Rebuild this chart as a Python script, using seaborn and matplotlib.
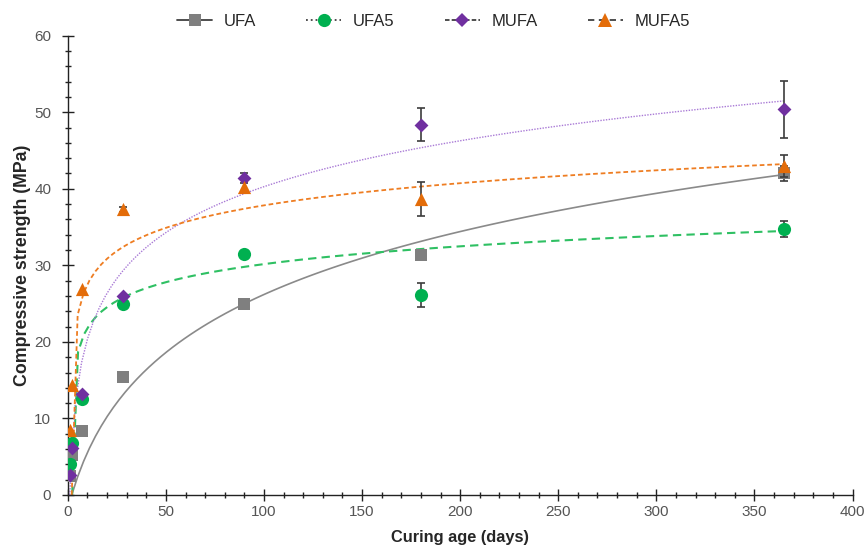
import numpy as np
import pandas as pd
import matplotlib
matplotlib.use("Agg")
import matplotlib.pyplot as plt
import seaborn as sns
from matplotlib.lines import Line2D
from matplotlib.ticker import MultipleLocator

# Curing ages (days) and mean compressive strength (MPa) of each mix
age_days = [1, 2, 7, 28, 90, 180, 365]
mix_names = ["UFA", "UFA5", "MUFA", "MUFA5"]
ufa = [2.5, 5.2, 8.4, 15.4, 24.9, 31.4, 42.0]
ufa5 = [4.1, 6.8, 12.5, 24.9, 31.5, 26.1, 34.8]
mufa = [2.6, 6.1, 13.2, 26.0, 41.4, 48.4, 50.4]
mufa5 = [8.5, 14.4, 26.9, 37.3, 40.3, 38.7, 43.0]

# Standard deviations (MPa)
ufa_sd = [0, 0, 0, 0, 0, 0, 1.0]
ufa5_sd = [0, 0, 0, 0, 0, 1.6, 1.05]
mufa_sd = [0, 0, 0, 0, 0.7, 2.2, 3.7]
mufa5_sd = [0, 0, 0, 0.3, 0, 2.2, 1.4]

# Strength-development trend  f(t) = a * ln(1 + (t - t0) / b)
trend_a = [12.97, 3.3, 8.65, 4.117]
trend_t0 = [2.0, 2.2, 0.95, 2.0]
trend_b = [15.0, 0.0105, 0.95, 0.01]

strengths = [ufa, ufa5, mufa, mufa5]
sds = [ufa_sd, ufa5_sd, mufa_sd, mufa5_sd]

marker_colors = ["#7f7f7f", "#00b050", "#7030a0", "#e36c09"]
marker_shapes = ["s", "o", "D", "^"]
marker_areas = [86, 90, 50, 90]
trend_colors = ["#8a8a8a", "#2fc063", "#a97ad6", "#ee7d22"]
trend_dashes = [None, (4, 2.5), (1, 1), (2.6, 1.6)]
trend_widths = [1.2, 1.5, 1.0, 1.3]
legend_ls = ["-", ":", (0, (2.5, 1.2)), (0, (3.5, 2.5))]

points = pd.DataFrame({
    "age": np.tile(age_days, len(mix_names)),
    "strength": np.concatenate(strengths),
    "sd": np.concatenate(sds),
    "mix": np.repeat(mix_names, len(age_days)),
})

curve_rows = []
for name, a, t0, b in zip(mix_names, trend_a, trend_t0, trend_b):
    t = np.linspace(t0, 365, 121)
    curve_rows.append(pd.DataFrame({"age": t, "strength": a * np.log1p((t - t0) / b), "mix": name}))
curves = pd.concat(curve_rows, ignore_index=True)

sns.set_style("ticks")
plt.rcParams["font.family"] = ["Liberation Sans", "DejaVu Sans"]

fig = plt.figure(figsize=(8.67, 5.52), dpi=100)
ax = fig.add_axes([0.0782, 0.1033, 0.9051, 0.832])

for i, name in enumerate(mix_names):
    sub = curves[curves["mix"] == name]
    sns.lineplot(data=sub, x="age", y="strength", ax=ax, legend=False,
                 estimator=None, sort=False, color=trend_colors[i],
                 linewidth=trend_widths[i], zorder=2)
    if trend_dashes[i] is not None:
        ax.lines[-1].set_dashes(trend_dashes[i])

for i, name in enumerate(mix_names):
    sub = points[points["mix"] == name]
    bars = sub[sub["sd"] > 0]
    ax.errorbar(bars["age"], bars["strength"], yerr=bars["sd"], fmt="none",
                ecolor="#3c3c3c", elinewidth=1.2, capsize=3, capthick=1.2,
                zorder=3 + 2 * i)
    sns.scatterplot(data=sub, x="age", y="strength", ax=ax, color=marker_colors[i],
                    marker=marker_shapes[i], s=marker_areas[i], linewidth=0,
                    legend=False, zorder=4 + 2 * i)

ax.set_xlim(0, 400)
ax.set_ylim(0, 60)
ax.xaxis.set_major_locator(MultipleLocator(50))
ax.xaxis.set_minor_locator(MultipleLocator(10))
ax.yaxis.set_major_locator(MultipleLocator(10))
ax.yaxis.set_minor_locator(MultipleLocator(2))
ax.tick_params(which="major", direction="inout", length=8, width=1.0,
               color="#222222", labelcolor="#555555", labelsize=11)
ax.tick_params(which="minor", direction="inout", length=4, width=1.0, color="#222222")
ax.tick_params(axis="y", which="major", pad=8)
ax.tick_params(axis="x", which="major", pad=3)
sns.despine(ax=ax)
for side in ("left", "bottom"):
    ax.spines[side].set_color("#222222")
    ax.spines[side].set_linewidth(1.0)

ax.set_xlabel("Curing age (days)", fontsize=11.8, fontweight="bold", color="#262626", labelpad=8)
ax.set_ylabel("Compressive strength (MPa)", fontsize=12.8, fontweight="bold", color="#262626", labelpad=2)

handles = [
    Line2D([], [], color="#404040", lw=1.3, ls=legend_ls[i], marker=marker_shapes[i],
           markersize=[9.2, 9.5, 7.0, 9.5][i], markerfacecolor=marker_colors[i],
           markeredgewidth=0)
    for i in range(len(mix_names))
]
fig.legend(handles, mix_names, loc="center", bbox_to_anchor=(0.5, 1 - 21.5 / 552),
           ncol=4, frameon=False, fontsize=12, handlelength=2.1, handletextpad=0.7,
           columnspacing=3.0, labelcolor="#262626")

fig.savefig("out.png", dpi=100)
